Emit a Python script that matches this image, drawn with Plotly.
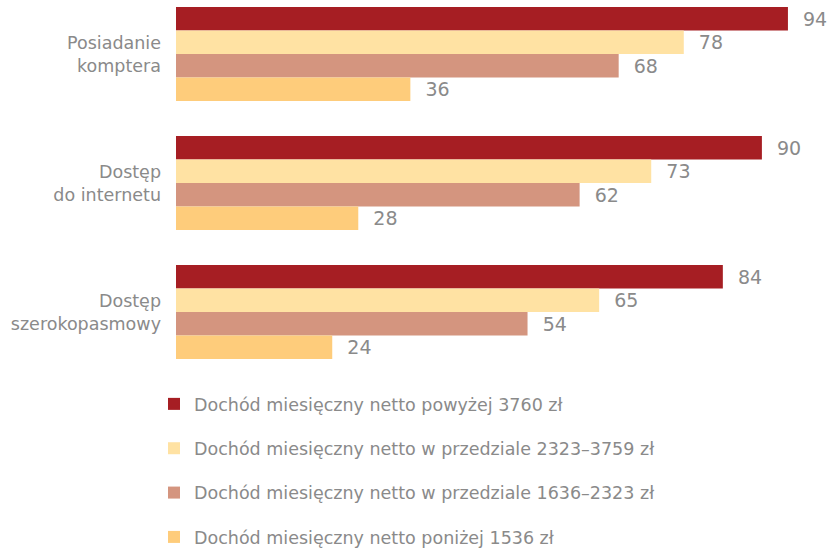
import plotly.graph_objects as go

categories = ["Posiadanie<br>komptera", "Dostęp<br>do internetu", "Dostęp<br>szerokopasmowy"]
series_names = [
    "Dochód miesięczny netto powyżej 3760 zł",
    "Dochód miesięczny netto w przedziale 2323–3759 zł",
    "Dochód miesięczny netto w przedziale 1636–2323 zł",
    "Dochód miesięczny netto poniżej 1536 zł",
]
above_3760 = [94, 90, 84]
range_2323_3759 = [78, 73, 65]
range_1636_2323 = [68, 62, 54]
below_1536 = [36, 28, 24]

series_values = [above_3760, range_2323_3759, range_1636_2323, below_1536]
colors = ["#A61E23", "#FFE2A3", "#D4957F", "#FECC7B"]

GRAY = "#8a8a8a"
FONT = "DejaVu Sans"

fig = go.Figure()
for i, (name, vals, col) in enumerate(zip(series_names, series_values, colors)):
    fig.add_trace(go.Bar(
        y=categories,
        x=vals,
        name=name,
        orientation="h",
        marker=dict(color=col, line=dict(width=0)),
        text=vals,
        texttemplate="  %{x}",
        textposition="outside",
        textfont=dict(color=GRAY, size=19, family=FONT),
        cliponaxis=False,
        constraintext="none",
        legendgroup=f"g{i}",
        hoverinfo="skip",
    ))

fig.update_layout(
    width=829,
    height=549,
    margin=dict(l=176, r=2, t=7, b=190, autoexpand=False),
    paper_bgcolor="white",
    plot_bgcolor="white",
    barmode="group",
    bargap=0.2713,
    bargroupgap=0,
    font=dict(family=FONT, color=GRAY, size=17.5),
    showlegend=True,
    legend=dict(
        xref="container", yref="container",
        x=154 / 829, y=1 - 386 / 549,
        xanchor="left", yanchor="top",
        orientation="v",
        tracegroupgap=18.6,
        font=dict(size=17.5, color=GRAY, family=FONT),
        bgcolor="rgba(0,0,0,0)",
    ),
    xaxis=dict(
        range=[0, 100],
        visible=False,
        fixedrange=True,
    ),
    yaxis=dict(
        range=[2.3643, -0.3643],
        showgrid=False,
        zeroline=False,
        showline=False,
        ticks="",
        ticklabelstandoff=14,
        tickfont=dict(size=17.5, color=GRAY, family=FONT),
        fixedrange=True,
    ),
)

fig.write_html("out.html")
